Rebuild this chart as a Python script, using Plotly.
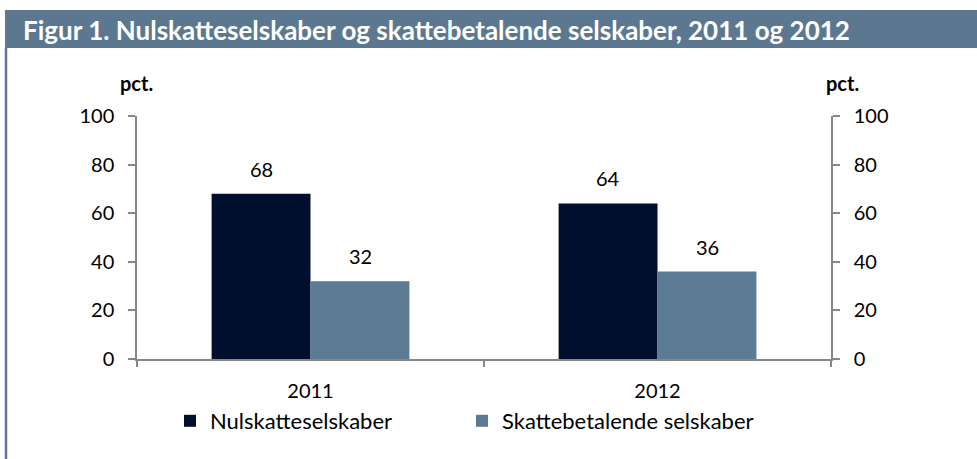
import plotly.graph_objects as go

categories = ["2011", "2012"]
series_names = ["Nulskatteselskaber", "Skattebetalende selskaber"]
nulskat = [68, 64]
skattebetalende = [32, 36]
y_ticks = [0, 20, 40, 60, 80, 100]
title_text = "Figur 1. Nulskatteselskaber og skattebetalende selskaber, 2011 og 2012"
unit_label = "pct."

W, H = 977, 459
L, R, T, B = 137, 831, 116, 359  # plot area in px
PW, PH = R - L, B - T

def px(x):
    return (x - L) / PW

def py(y):
    return (B - y) / PH

NAVY = "#000F2E"
STEEL = "#5B7A93"
HEADER = "#5B7890"
AXIS = "#878787"
FONT = "Lato"

fig = go.Figure()
fig.add_trace(go.Bar(x=categories, y=nulskat, name=series_names[0],
                     marker=dict(color=NAVY, line=dict(width=0))))
fig.add_trace(go.Bar(x=categories, y=skattebetalende, name=series_names[1],
                     marker=dict(color=STEEL, line=dict(width=0))))
# invisible helper so that the mirrored right axis is drawn
fig.add_trace(go.Scatter(x=categories, y=nulskat, yaxis="y2", mode="markers",
                         marker=dict(opacity=0), showlegend=False, hoverinfo="skip"))

annotations = []
bar_half = 49.5
for vals, sh in ((nulskat, -bar_half), (skattebetalende, bar_half)):
    for i, v in enumerate(vals):
        annotations.append(dict(x=i, y=v, xref="x", yref="y", text=str(v),
                                showarrow=False, xshift=sh, yshift=25,
                                font=dict(family=FONT, size=20, color="#000")))

annotations.append(dict(x=px(21), y=py(30), xref="paper", yref="paper",
                        text="<b>" + title_text + "</b>", showarrow=False,
                        xanchor="left", yanchor="middle",
                        font=dict(family=FONT, size=26, color="white")))
for cx in (136, 842):
    annotations.append(dict(x=px(cx), y=py(83), xref="paper", yref="paper",
                            text="<b>" + unit_label + "</b>", showarrow=False,
                            xanchor="center", yanchor="middle",
                            font=dict(family=FONT, size=20, color="#000")))

shapes = [
    dict(type="rect", xref="paper", yref="paper",
         x0=px(5), x1=px(977), y0=py(10), y1=py(48),
         fillcolor=HEADER, line=dict(width=0), layer="below"),
    dict(type="line", xref="paper", yref="paper",
         x0=px(6), x1=px(6), y0=py(48), y1=py(459),
         line=dict(color=HEADER, width=2.5)),
]

axis_font = dict(family=FONT, size=20, color="#000")

fig.update_layout(
    width=W, height=H,
    margin=dict(l=L, r=W - R, t=T, b=H - B, pad=0),
    paper_bgcolor="white", plot_bgcolor="white",
    barmode="group", bargap=0.43, bargroupgap=0,
    showlegend=True,
    legend=dict(orientation="h", x=px(170), y=py(421), xanchor="left", yanchor="middle",
                font=dict(family=FONT, size=22, color="#000"),
                entrywidth=247, entrywidthmode="pixels",
                itemwidth=30, bgcolor="rgba(0,0,0,0)", traceorder="normal"),
    xaxis=dict(type="category", range=[-0.5, 1.5], showgrid=False, showline=True,
               linecolor=AXIS, linewidth=1.5,
               ticks="outside", tickson="boundaries", ticklen=6, tickcolor=AXIS, tickwidth=1.5,
               tickfont=axis_font, ticklabelstandoff=13, zeroline=False, fixedrange=True),
    yaxis=dict(range=[0, 100], tickvals=y_ticks, showgrid=False, zeroline=False,
               showline=True, linecolor=AXIS, linewidth=1.5,
               ticks="outside", ticklen=7, tickcolor=AXIS, tickwidth=1.5,
               tickfont=axis_font, ticklabelstandoff=10),
    yaxis2=dict(range=[0, 100], tickvals=y_ticks, showgrid=False, zeroline=False,
                overlaying="y", side="right", anchor="x",
                showline=True, linecolor=AXIS, linewidth=1.5,
                ticks="outside", ticklen=7, tickcolor=AXIS, tickwidth=1.5,
                tickfont=axis_font, ticklabelstandoff=10),
    annotations=annotations,
    shapes=shapes,
)

fig.write_html("out.html")
